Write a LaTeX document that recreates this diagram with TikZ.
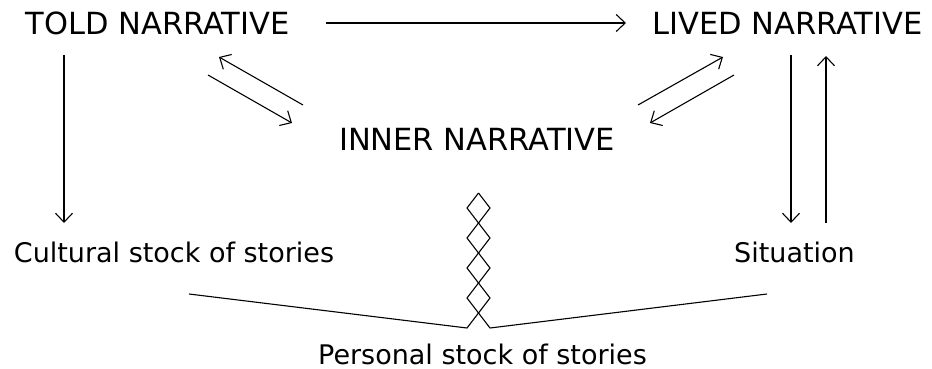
\documentclass[tikz,border=0pt]{standalone}
\usepackage{fontspec}
\setmainfont{DejaVu Sans}
\usetikzlibrary{arrows.meta}
\tikzset{
  captext/.style={inner sep=0pt, anchor=base, font=\fontsize{30.5}{36}\selectfont},
  lowtext/.style={inner sep=0pt, anchor=base, font=\fontsize{27}{32}\selectfont},
  arr/.style={line width=1.1pt, -{Straight Barb[length=9pt,width=17pt,line width=1.1pt]}},
  ln/.style={line width=1.1pt}
}
\begin{document}
\begin{tikzpicture}[x=1pt,y=-1pt]
\useasboundingbox (0,0) rectangle (932,369);
% texts
\node[captext] (told) at (157.5,35) {TOLD NARRATIVE};
\node[captext] (lived) at (787.5,35) {LIVED NARRATIVE};
\node[captext] (inner) at (477,150) {INNER NARRATIVE};
\node[lowtext] (cult) at (174,262) {Cultural stock of stories};
\node[lowtext] (sit) at (794.5,262) {Situation};
\node[lowtext] (pers) at (482.5,364.5) {Personal stock of stories};
% arrow ends
\coordinate (h1) at (326,23); \coordinate (h2) at (626,23);
\coordinate (l1) at (64,55); \coordinate (l2) at (64,223);
\coordinate (a1s) at (303,105); \coordinate (a1e) at (219,57);
\coordinate (a2s) at (208,75); \coordinate (a2e) at (292,123);
\coordinate (b1s) at (638,105); \coordinate (b1e) at (723,57);
\coordinate (b2s) at (734,75); \coordinate (b2e) at (650,123);
\coordinate (r1s) at (791,55); \coordinate (r1e) at (791,223);
\coordinate (r2s) at (826,223); \coordinate (r2e) at (826,56);
\draw[arr] (h1) -- (h2);
\draw[arr] (l1) -- (l2);
\draw[arr] (a1s) -- (a1e);
\draw[arr] (a2s) -- (a2e);
\draw[arr] (b1s) -- (b1e);
\draw[arr] (b2s) -- (b2e);
\draw[arr] (r1s) -- (r1e);
\draw[arr] (r2s) -- (r2e);
% diamond chain
\def\cx{478.5}\def\hw{11.5}
\coordinate (dtop) at (\cx,193);
\coordinate (dl) at (\cx-\hw,328);
\coordinate (dr) at (\cx+\hw,328);
\coordinate (ll) at (189,294);
\coordinate (rr) at (767,294);
\draw[ln] (dtop) -- (\cx-\hw,208) -- (\cx+\hw,238) -- (\cx-\hw,268) -- (\cx+\hw,298) -- (dl) -- (ll);
\draw[ln] (dtop) -- (\cx+\hw,208) -- (\cx-\hw,238) -- (\cx+\hw,268) -- (\cx-\hw,298) -- (dr) -- (rr);
\end{tikzpicture}
\end{document}
